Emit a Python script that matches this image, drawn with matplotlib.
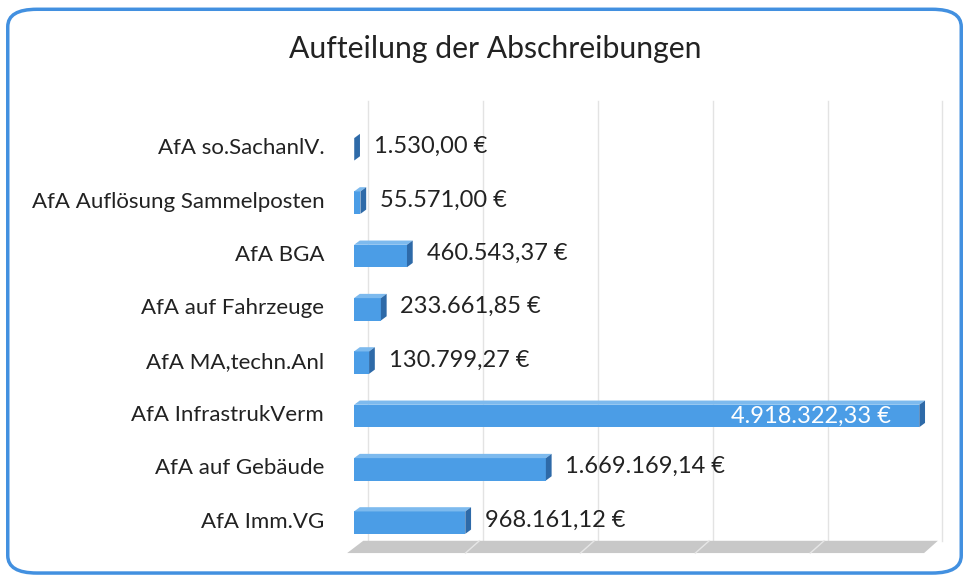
import matplotlib.pyplot as plt
from matplotlib.patches import Polygon, FancyBboxPatch

plt.rcParams['font.family'] = ['Lato', 'DejaVu Sans']

# Daten (von oben nach unten wie im Bild)
kategorien = ['AfA so.SachanlV.', 'AfA Auflösung Sammelposten', 'AfA BGA',
              'AfA auf Fahrzeuge', 'AfA MA,techn.Anl', 'AfA InfrastrukVerm',
              'AfA auf Gebäude', 'AfA Imm.VG']
werte = [1530.00, 55571.00, 460543.37, 233661.85, 130799.27,
         4918322.33, 1669169.14, 968161.12]
x_ticks = [0, 1e6, 2e6, 3e6, 4e6, 5e6]


def euro(v):
    # deutsches Zahlenformat: 1.234,56 €
    s = f'{v:,.2f}'
    s = s.replace(',', 'X').replace('.', ',').replace('X', '.')
    return s + ' €'


fig = plt.figure(figsize=(9.69, 5.8), dpi=100, facecolor='white')

# abgerundeter blauer Rahmen
rahmen = FancyBboxPatch((0.008, 0.012), 0.984, 0.972,
                        boxstyle='round,pad=0,rounding_size=0.03',
                        transform=fig.transFigure, facecolor='none',
                        edgecolor='#4290e0', linewidth=2.5, zorder=10)
fig.patches.append(rahmen)

fig.text(0.511, 0.915, 'Aufteilung der Abschreibungen', ha='center', va='center',
         fontsize=21.7, color='#222222')

ax = fig.add_axes([0.363, 0.0345, 0.593, 0.7586])
ax.set_xlim(-0.02e6, 4.98e6)
ax.set_ylim(-0.70, 7.55)
ax.axis('off')

# 3D-Versatz
dx = 0.05e6
dy = 0.08
h = 0.42
wand_dx = 0.12e6
boden_vorne = -0.57
boden_hinten = -0.34

# Hintergrund-Gitterlinien (Rückwand)
for t in x_ticks:
    ax.plot([t + wand_dx, t + wand_dx], [boden_hinten, 7.9], color='#e3e3e3',
            linewidth=1, zorder=1, clip_on=False)

# Boden
boden = Polygon([(-0.06e6, boden_vorne), (4.96e6, boden_vorne),
                 (5.08e6, boden_hinten), (0.08e6, boden_hinten)],
                closed=True, facecolor='#c8c8c8', edgecolor='none', zorder=1,
                clip_on=False)
ax.add_patch(boden)
for t in x_ticks[1:-1]:
    ax.plot([t - 0.03e6, t + 0.09e6], [boden_vorne, boden_hinten],
            color='#e6e6e6', linewidth=1, zorder=1.5)

pos = list(range(len(kategorien)))[::-1]

for y, v, name in zip(pos, werte, kategorien):
    # Vorderseite
    ax.barh(y, v, height=h, left=0, color='#4b9de6', edgecolor='none', zorder=3)
    # Oberseite
    ax.add_patch(Polygon([(0, y + h / 2), (v, y + h / 2),
                          (v + dx, y + h / 2 + dy), (dx, y + h / 2 + dy)],
                         closed=True, facecolor='#7dbaee', edgecolor='none', zorder=3))
    # rechte Seite
    ax.add_patch(Polygon([(v, y - h / 2), (v + dx, y - h / 2 + dy),
                          (v + dx, y + h / 2 + dy), (v, y + h / 2)],
                         closed=True, facecolor='#2e6aa8', edgecolor='none', zorder=3))
    ax.text(-0.26e6, y + 0.02, name, ha='right', va='center', fontsize=16,
            color='#222222')
    if v > 4e6:
        ax.text(v - 0.25e6, y, euro(v), ha='right', va='center', fontsize=17,
                color='white', zorder=4)
    else:
        ax.text(v + dx + 0.12e6, y + 0.05, euro(v), ha='left', va='center',
                fontsize=17, color='#222222', zorder=4)

fig.savefig('out.png', dpi=100)
